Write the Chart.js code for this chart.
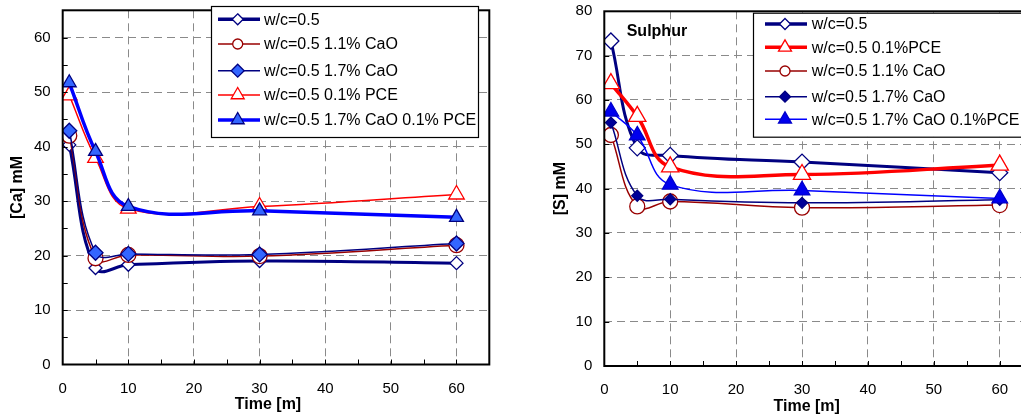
<!DOCTYPE html>
<html>
<head>
<meta charset="utf-8">
<title>Ca and S in pore solution</title>
<script src="https://cdn.jsdelivr.net/npm/chart.js@4.4.0/dist/chart.umd.min.js"></script>
<style>
    html, body { margin: 0; padding: 0; background: #fff; overflow: hidden; }
    body { width: 1021px; height: 419px; position: relative; }
    .chart-box { position: absolute; top: 0; width: 520px; height: 419px; }
    #caBox { left: 0; }
    #sBox { left: 540px; }
</style>
</head>
<body>
<div class="chart-box" id="caBox"><canvas id="caChart" width="520" height="419"></canvas></div>
<div class="chart-box" id="sBox"><canvas id="sChart" width="520" height="419"></canvas></div>

<script>
// sampling times, minutes
const times = [1, 5, 10, 30, 60];

// [Ca] mM
const caPlain = [40.3, 17.7, 18.3, 19.0, 18.6];
const caCaO11 = [42.0, 19.5, 20.1, 19.9, 21.9];
const caCaO17 = [42.9, 20.5, 20.3, 20.2, 22.2];
const caPCE = [49.4, 37.9, 28.6, 29.0, 31.2];
const caCaO17PCE = [51.7, 39.1, 29.0, 28.2, 27.0];

// [S] mM
const sPlain = [73.3, 49.2, 47.5, 46.0, 43.6];
const sPCE = [63.7, 56.3, 44.9, 43.2, 45.3];
const sCaO11 = [52.1, 36.0, 37.1, 35.7, 36.3];
const sCaO17 = [54.9, 38.4, 37.6, 36.8, 37.5];
const sCaO17PCE = [57.4, 52.0, 40.9, 39.6, 37.8];

const FONT = "'Liberation Sans', Arial, sans-serif";
const NAVY = '#000080';
const DARK_RED = '#990000';
const RED = '#FF0000';
const BLUE = '#0000FF';
const ROYAL = '#3366FF';

const caSeries = [
    { label: 'w/c=0.5', values: caPlain, color: NAVY, width: 3, marker: 'rectRot', r: 6.5, fill: '#fff', edge: NAVY, lr: 5.5, lw: 3.5 },
    { label: 'w/c=0.5 1.1% CaO', values: caCaO11, color: DARK_RED, width: 1.5, marker: 'circle', r: 7.5, fill: '#fff', edge: DARK_RED, lr: 5, lw: 1.5 },
    { label: 'w/c=0.5 1.7% CaO', values: caCaO17, color: NAVY, width: 1.5, marker: 'rectRot', r: 7.5, fill: ROYAL, edge: NAVY, lr: 6.5, lw: 1.5 },
    { label: 'w/c=0.5 0.1% PCE', values: caPCE, color: RED, width: 1.5, marker: 'triangle', r: 9, fill: '#fff', edge: RED, lr: 7.5, lw: 1.5 },
    { label: 'w/c=0.5 1.7% CaO 0.1% PCE', values: caCaO17PCE, color: BLUE, width: 3.5, marker: 'triangle', r: 8, fill: ROYAL, edge: NAVY, lr: 7.5, lw: 3.5 }
];

const sSeries = [
    { label: 'w/c=0.5', values: sPlain, color: NAVY, width: 3, marker: 'rectRot', r: 8, fill: '#fff', edge: NAVY, lr: 5.5, lw: 3.5 },
    { label: 'w/c=0.5 0.1%PCE', values: sPCE, color: RED, width: 3.5, marker: 'triangle', r: 10, fill: '#fff', edge: RED, lr: 7.5, lw: 3.5 },
    { label: 'w/c=0.5 1.1% CaO', values: sCaO11, color: DARK_RED, width: 1.5, marker: 'circle', r: 7.5, fill: '#fff', edge: DARK_RED, lr: 5, lw: 1.5 },
    { label: 'w/c=0.5 1.7% CaO', values: sCaO17, color: NAVY, width: 1.5, marker: 'rectRot', r: 5.5, fill: '#000099', edge: NAVY, lr: 5.5, lw: 1.5 },
    { label: 'w/c=0.5 1.7% CaO 0.1%PCE', values: sCaO17PCE, color: BLUE, width: 1.5, marker: 'triangle', r: 9, fill: '#0000EE', edge: '#0000CC', lr: 7.5, lw: 1.5 }
];

// same geometry as Chart.js point styles
function drawMarker(ctx, style, x, y, r, fill, edge) {
    ctx.beginPath();
    if (style === 'circle') {
        ctx.arc(x, y, r, 0, Math.PI * 2);
    } else if (style === 'rectRot') {
        ctx.moveTo(x, y - r); ctx.lineTo(x + r, y); ctx.lineTo(x, y + r); ctx.lineTo(x - r, y);
    } else {
        const s = Math.sin(Math.PI * 2 / 3) * r;
        ctx.moveTo(x, y - r); ctx.lineTo(x + s, y + r / 2); ctx.lineTo(x - s, y + r / 2);
    }
    ctx.closePath();
    ctx.fillStyle = fill;
    ctx.fill();
    ctx.lineWidth = 1.3;
    ctx.strokeStyle = edge;
    ctx.stroke();
}

// frame, minor ticks, axis titles and the boxed legend
function decorations(o, series) {
    return {
        id: 'decorations',
        afterDraw(chart) {
            const ctx = chart.ctx;
            const a = chart.chartArea;
            const xs = chart.scales.x, ys = chart.scales.y;
            ctx.save();

            ctx.strokeStyle = '#000';
            ctx.lineWidth = 1;
            ctx.beginPath();
            for (let v = 5; v < xs.max; v += 5) {
                const px = Math.round(xs.getPixelForValue(v)) + 0.5;
                ctx.moveTo(px, a.bottom); ctx.lineTo(px, a.bottom - 5);
            }
            for (let v = o.yTickStep; v < ys.max; v += o.yTickStep) {
                const py = Math.round(ys.getPixelForValue(v)) + 0.5;
                ctx.moveTo(a.left, py); ctx.lineTo(a.left + 5, py);
            }
            ctx.stroke();

            ctx.lineWidth = 2;
            ctx.strokeRect(a.left, a.top, a.right - a.left, a.bottom - a.top);

            // axis titles
            ctx.fillStyle = '#000';
            ctx.font = 'bold 16px ' + FONT;
            ctx.textAlign = 'center';
            ctx.textBaseline = 'middle';
            ctx.fillText('Time [m]', o.xTitle[0], o.xTitle[1]);
            ctx.save();
            ctx.translate(o.yTitleX, (a.top + a.bottom) / 2);
            ctx.rotate(-Math.PI / 2);
            ctx.fillText(o.yTitle, 0, 0);
            ctx.restore();
            if (o.note) {
                ctx.textAlign = 'left';
                ctx.fillText(o.note.text, o.note.x, o.note.y);
            }

            // legend
            const lg = o.legend;
            ctx.fillStyle = '#fff';
            ctx.fillRect(lg.x, lg.y, lg.w, lg.h);
            ctx.lineWidth = 1.2;
            ctx.strokeStyle = '#000';
            ctx.strokeRect(lg.x + 0.5, lg.y + 0.5, lg.w, lg.h);
            ctx.font = '16px ' + FONT;
            ctx.textAlign = 'left';
            series.forEach((s, i) => {
                const y = lg.rows[i];
                ctx.beginPath();
                ctx.moveTo(lg.line[0], y); ctx.lineTo(lg.line[1], y);
                ctx.lineWidth = s.lw;
                ctx.strokeStyle = s.color;
                ctx.stroke();
                drawMarker(ctx, s.marker, lg.mark, y, s.lr, s.fill, s.edge);
                ctx.fillStyle = '#000';
                ctx.fillText(s.label, lg.text, y + 1);
            });
            ctx.restore();
        }
    };
}

function buildChart(canvasId, series, o) {
    const datasets = series.map((s, i) => ({
        label: s.label,
        data: s.values.map((v, k) => ({ x: times[k], y: v })),
        borderColor: s.color,
        borderWidth: s.width,
        tension: 0.4,
        pointStyle: s.marker,
        pointRadius: s.r,
        pointBackgroundColor: s.fill,
        pointBorderColor: s.edge,
        pointBorderWidth: 1.3,
        order: series.length - i
    }));

    const gridColor = (ctx) => (ctx.tick.value === 0 || ctx.tick.value >= ctx.scale.max) ? 'rgba(0,0,0,0)' : '#8a8a8a';
    const tickFont = { family: FONT, size: 15 };

    return new Chart(document.getElementById(canvasId), {
        type: 'line',
        data: { datasets: datasets },
        options: {
            responsive: false,
            devicePixelRatio: 1,
            animation: false,
            layout: { padding: o.padding },
            plugins: { legend: { display: false }, tooltip: { enabled: false } },
            scales: {
                x: {
                    type: 'linear', min: 0, max: 65,
                    ticks: { stepSize: 10, includeBounds: false, color: '#000', font: tickFont, padding: 15, maxRotation: 0 },
                    grid: { color: gridColor, lineWidth: 1, drawTicks: false },
                    border: { display: false, dash: [8, 5] },
                    afterFit: (scale) => {
                        scale.height = o.xAxisH;
                        scale.paddingLeft = 0; scale.paddingRight = 0;
                    }
                },
                y: {
                    min: 0, max: o.yMax,
                    ticks: { stepSize: 10, includeBounds: false, color: '#000', font: tickFont, padding: 12 },
                    grid: { color: gridColor, lineWidth: 1, drawTicks: false },
                    border: { display: false, dash: [8, 5] },
                    afterFit: (scale) => {
                        scale.width = o.yAxisW;
                        scale.paddingTop = 0; scale.paddingBottom = 0;
                    }
                }
            }
        },
        plugins: [decorations(o, series)]
    });
}

buildChart('caChart', caSeries, {
    yMax: 65, yTickStep: 5,
    padding: { top: 6, left: 0, right: 30.7, bottom: 0 },
    yAxisW: 62.7, xAxisH: 54.5,
    yTitle: '[Ca] mM', yTitleX: 18, xTitle: [268, 405],
    legend: { x: 211, y: 6, w: 267, h: 131, rows: [19.3, 44, 70.7, 95, 120], line: [218, 260], mark: 237.7, text: 264 }
});

buildChart('sChart', sSeries, {
    yMax: 80, yTickStep: 10,
    padding: { top: 10, left: 0, right: 27.3, bottom: 0 },
    yAxisW: 64.3, xAxisH: 53,
    yTitle: '[S] mM', yTitleX: 20.7, xTitle: [266.7, 406.7],
    note: { text: 'Sulphur', x: 86.7, y: 31.7 },
    legend: { x: 213, y: 12.7, w: 300, h: 124, rows: [24, 47.3, 71, 96.7, 119.3], line: [225, 267], mark: 245, text: 271.7 }
});
</script>
</body>
</html>
